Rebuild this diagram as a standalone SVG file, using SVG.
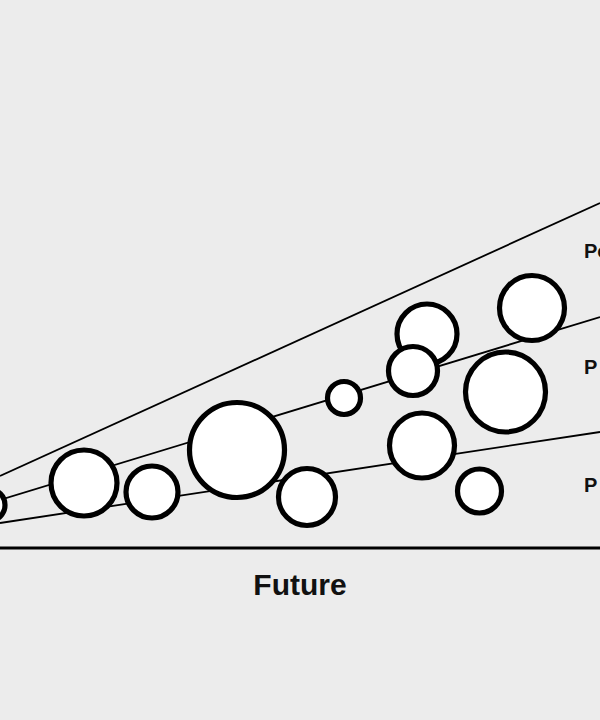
<svg xmlns="http://www.w3.org/2000/svg" width="600" height="720" viewBox="0 0 600 720">
<style>
.bg{fill:#ececec}
.ray{stroke:#000;stroke-width:1.8;fill:none}
.axis{stroke:#000;stroke-width:3;fill:none}
.c{fill:#fff;stroke:#000;stroke-width:5.2}
.lbl{font-family:"Liberation Sans",Arial,sans-serif;font-weight:bold;font-size:20px;fill:#111}
.title{font-family:"Liberation Sans",Arial,sans-serif;font-weight:bold;font-size:30px;fill:#111;text-anchor:middle}
</style>
<rect class="bg" x="0" y="0" width="600" height="720"/>
<g id="connectors">
<line class="ray" x1="0" y1="476" x2="600" y2="203"/>
<line class="ray" x1="0" y1="500" x2="600" y2="317"/>
<line class="ray" x1="0" y1="523" x2="600" y2="432"/>
<line class="axis" x1="0" y1="548" x2="600" y2="548"/>
</g>
<g id="n1"><circle class="c" cx="-11" cy="505" r="16"/></g>
<g id="n2"><circle class="c" cx="84" cy="483" r="33"/></g>
<g id="n3"><circle class="c" cx="152" cy="492" r="26"/></g>
<g id="n4"><circle class="c" cx="237" cy="450" r="47.5"/></g>
<g id="n5"><circle class="c" cx="307" cy="497" r="28.5"/></g>
<g id="n6"><circle class="c" cx="344" cy="398" r="16.5"/></g>
<g id="n7"><circle class="c" cx="427" cy="334" r="30"/></g>
<g id="n8"><circle class="c" cx="413" cy="371" r="24.5"/></g>
<g id="n9"><circle class="c" cx="532" cy="308" r="32.5"/></g>
<g id="n10"><circle class="c" cx="505.5" cy="392" r="40"/></g>
<g id="n11"><circle class="c" cx="422" cy="445.5" r="32.5"/></g>
<g id="n12"><circle class="c" cx="479.5" cy="491" r="22"/></g>
<g id="labels">
<text class="lbl" x="584" y="258">Po</text>
<text class="lbl" x="584" y="374">P</text>
<text class="lbl" x="584" y="492">P</text>
<text class="title" x="300" y="595">Future</text>
</g>
</svg>
